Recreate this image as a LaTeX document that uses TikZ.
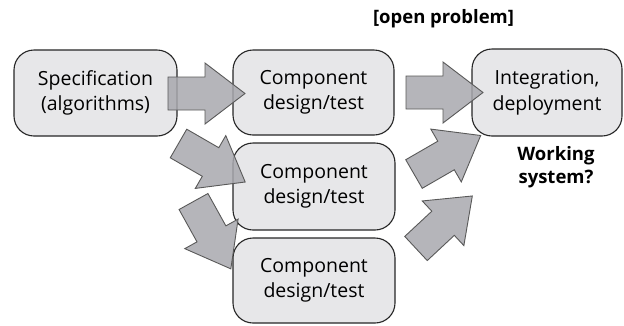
\documentclass[tikz,border=0pt]{standalone}
\usepackage{fontspec}
\setmainfont{Open Sans}
\begin{document}
\begin{tikzpicture}[x=1pt,y=-1pt,
  box/.style={draw=black!85, line width=1.1pt, fill=boxgray, rounded corners=20pt,
    align=center, inner sep=0pt, font=\fontsize{19.5}{25.5}\selectfont},
  blockarrow/.style={draw=black!65, line width=0.9pt, fill=arrowgray, fill opacity=0.85, line join=miter},
  note/.style={font=\bfseries\fontsize{18.5}{22.5}\selectfont, align=center}]
\definecolor{boxgray}{RGB}{231,231,233}
\definecolor{arrowgray}{RGB}{168,168,174}
\useasboundingbox (0,0) rectangle (624,325);
\newcommand{\blockarr}[4]{%
  \begin{scope}[shift={(#1,#2)}, rotate=#3]
    \coordinate (#4-tail) at (0pt,0pt);
    \coordinate (#4-tip) at (77pt,0pt);
    \draw[blockarrow] (0pt,-16.5pt) -- (37pt,-16.5pt) -- (37pt,-30.5pt) -- (#4-tip)
      -- (37pt,30.5pt) -- (37pt,16.5pt) -- (0pt,16.5pt) -- cycle;
  \end{scope}}
\node[box, minimum width=163pt, minimum height=86pt] (spec) at (95.5,93) {Specification\\(algorithms)};
\node[box, minimum width=161pt, minimum height=85pt] (c1) at (313.5,92.5) {Component\\design/test};
\node[box, minimum width=162pt, minimum height=87pt] (c2) at (314,186.5) {Component\\design/test};
\node[box, minimum width=162pt, minimum height=85pt] (c3) at (314,280.5) {Component\\design/test};
\node[box, minimum width=150pt, minimum height=87pt] (int) at (547,92.5) {Integration,\\deployment};
\node[note] (open) at (443.5,19) {[open problem]};
\node[note] (work) at (556,167) {Working\\system?};
\blockarr{168}{93.5}{0}{a1}
\blockarr{406}{92.5}{0}{a2}
\blockarr{178.5}{143.5}{-30}{a3}
\blockarr{193.5}{201.5}{-61}{a4}
\blockarr{414}{174}{30}{a5}
\blockarr{416}{248.5}{43}{a6}
\end{tikzpicture}
\end{document}
